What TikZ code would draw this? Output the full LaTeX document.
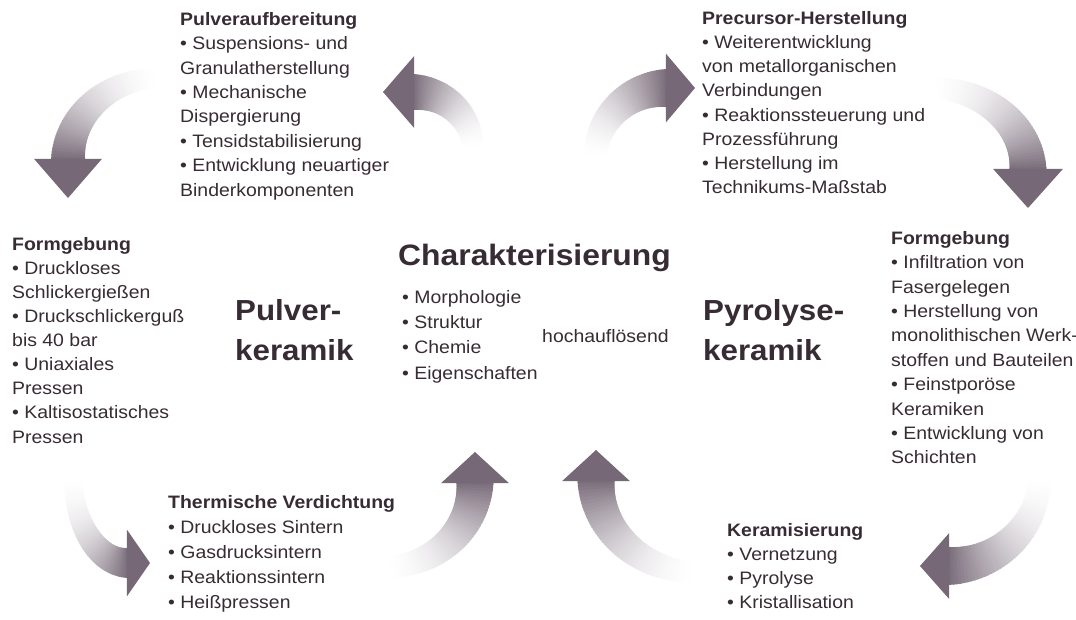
\documentclass[tikz,border=0pt]{standalone}
\usepackage{fontspec}
\setmainfont[FakeStretch=1.08]{Liberation Sans}
\definecolor{textc}{RGB}{56,44,52}
\definecolor{arrc}{RGB}{118,104,118}
\tikzset{
  body/.style={font=\fontsize{18}{24.4}\selectfont, align=left, anchor=north west, inner sep=0pt, text=textc},
  big/.style={font=\fontsize{29}{40}\selectfont\bfseries, align=left, anchor=north west, inner sep=0pt, text=textc},
}
% #1 cx, #2 cy, #3 rx, #4 ry, #5 tail angle, #6 head angle, #7 shaft width, #8 head length, #9 head width
\newcommand\garrow[9]{%
  \pgfmathsetmacro\gsg{(#6>#5)?1:-1}%
  \pgfmathsetmacro\gbx{#1+#3*cos(#6)}%
  \pgfmathsetmacro\gby{#2+#4*sin(#6)}%
  \pgfmathsetmacro\gtx{0-(\gsg)*#3*sin(#6)}%
  \pgfmathsetmacro\gty{(\gsg)*#4*cos(#6)}%
  \pgfmathsetmacro\gtn{veclen(\gtx,\gty)}%
  \pgfmathsetmacro\gux{\gtx/\gtn}%
  \pgfmathsetmacro\guy{\gty/\gtn}%
  \foreach \k in {0,...,47}{%
    \pgfmathsetmacro\gta{#5+(#6-(#5))*\k/48}%
    \pgfmathsetmacro\gtb{#5+(#6-(#5))*min(\k+1.8,48)/48}%
    \pgfmathsetmacro\gpc{96*((\k+1)/48)^1.9}%
    \pgfmathsetmacro\glw{#7*(0.55+0.45*\k/47)}%
    \pgfmathsetmacro\gsx{#1+#3*cos(\gta)}%
    \pgfmathsetmacro\gsy{#2+#4*sin(\gta)}%
    \draw[line width=\glw pt, draw=arrc!\gpc!white] (\gsx pt,\gsy pt) arc[start angle=\gta, end angle=\gtb, x radius=#3pt, y radius=#4pt];
  }%
  \pgfmathsetmacro\gax{\gbx-\gux*1.2-\guy*#9/2}%
  \pgfmathsetmacro\gay{\gby-\guy*1.2+\gux*#9/2}%
  \pgfmathsetmacro\gcx{\gbx-\gux*1.2+\guy*#9/2}%
  \pgfmathsetmacro\gcy{\gby-\guy*1.2-\gux*#9/2}%
  \pgfmathsetmacro\gdx{\gbx+\gux*#8}%
  \pgfmathsetmacro\gdy{\gby+\guy*#8}%
  \fill[arrc] (\gax pt,\gay pt) -- (\gdx pt,\gdy pt) -- (\gcx pt,\gcy pt) -- cycle;
}
\begin{document}
\begin{tikzpicture}[x=1pt,y=1pt]
\fill[white] (0,0) rectangle (1076,-619);
\useasboundingbox (0,0) rectangle (1076,-619);

% arrows
\garrow{160}{-160}{92}{82}{90}{180}{34}{38}{68}
\garrow{413}{-150}{60}{58}{0}{90}{36}{30}{72}
\garrow{667}{-160}{72}{72}{180}{90}{38}{28}{69}
\garrow{930}{-170}{98}{82}{90}{0}{37}{38}{70}
\garrow{128}{-475}{55}{88}{180}{270}{30}{22}{67}
\garrow{385}{-482}{90}{85}{270}{360}{37}{30}{68}
\garrow{697}{-480}{101}{92}{270}{180}{37}{30}{68}
\garrow{948}{-475}{92}{91}{0}{-90}{38}{28}{66}

% text blocks
\node[body] (pa) at (180,-11) {\rule{0pt}{14pt}\textbf{Pulveraufbereitung}\\
• Suspensions- und\\Granulatherstellung\\• Mechanische\\Dispergierung\\
• Tensidstabilisierung\\• Entwicklung neuartiger\\Binderkomponenten};

\node[body, font=\fontsize{18}{24.2}\selectfont] (ph) at (702,-10) {\rule{0pt}{14pt}\textbf{Precursor-Herstellung}\\
• Weiterentwicklung\\von metallorganischen\\Verbindungen\\• Reaktionssteuerung und\\
Prozessführung\\• Herstellung im\\Technikums-Maßstab};

\node[body, font=\fontsize{18}{24.1}\selectfont] (fl) at (12,-236) {\rule{0pt}{14pt}\textbf{Formgebung}\\
• Druckloses\\Schlickergießen\\• Druckschlickerguß\\bis 40 bar\\• Uniaxiales\\Pressen\\
• Kaltisostatisches\\Pressen};

\node[body] (fr) at (891,-230) {\rule{0pt}{14pt}\textbf{Formgebung}\\
• Infiltration von\\Fasergelegen\\• Herstellung von\\monolithischen Werk-\\
stoffen und Bauteilen\\• Feinstporöse\\Keramiken\\• Entwicklung von\\Schichten};

\node[body, font=\fontsize{18}{25}\selectfont] (tv) at (168,-494) {\rule{0pt}{14pt}\textbf{Thermische Verdichtung}\\
• Druckloses Sintern\\• Gasdrucksintern\\• Reaktionssintern\\• Heißpressen};

\node[body, font=\fontsize{18}{24}\selectfont] (km) at (727,-522) {\rule{0pt}{14pt}\textbf{Keramisierung}\\
• Vernetzung\\• Pyrolyse\\• Kristallisation};

% centre
\node[inner sep=0pt, anchor=base west, text=textc, font=\fontsize{29.5}{36}\selectfont\bfseries] (ch) at (398,-265) {Charakterisierung};
\node[body, font=\fontsize{18}{25.3}\selectfont] (chl) at (402,-289) {\rule{0pt}{14pt}• Morphologie\\• Struktur\\• Chemie\\• Eigenschaften};
\node[inner sep=0pt, anchor=base west, text=textc, font=\fontsize{18}{24}\selectfont] (hoch) at (542,-342) {hochauflösend};

\node[big] (pk) at (235,-298) {\rule{0pt}{22pt}Pulver-\\keramik};
\node[big] (yk) at (703,-298) {\rule{0pt}{22pt}Pyrolyse-\\keramik};
\end{tikzpicture}
\end{document}
